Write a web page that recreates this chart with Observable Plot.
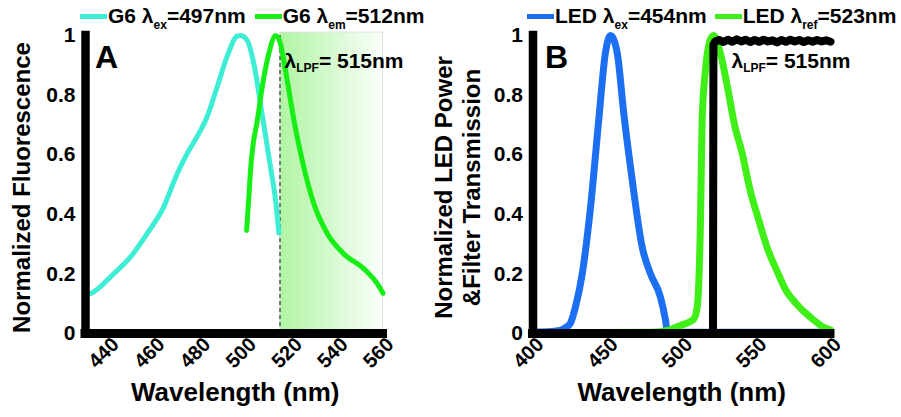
<!DOCTYPE html>
<html><head><meta charset="utf-8">
<script src="https://cdn.jsdelivr.net/npm/d3@7"></script>
<script src="https://cdn.jsdelivr.net/npm/@observablehq/plot@0.6"></script>
<style>
body{margin:0;background:#fff;font-family:"Liberation Sans",Arial,sans-serif;}
#wrap{position:relative;width:901px;height:417px;overflow:hidden;}
.legend{position:absolute;top:3px;display:flex;white-space:nowrap;font-weight:bold;font-size:21px;line-height:26px;z-index:2;}
.item{display:flex;align-items:center;}
.sw{display:inline-block;width:27px;height:5px;margin-right:1px;position:relative;top:-1px}
.sub{font-size:12px;position:relative;top:6px}
.panel{position:absolute;top:26px;}
svg{overflow:visible}
</style></head><body>
<div id="wrap">
 <div id="legA" class="legend" style="left:80px"></div>
 <div id="legB" class="legend" style="left:527px"></div>
 <div id="panelA" class="panel" style="left:0"></div>
 <div id="panelB" class="panel" style="left:450px"></div>
</div>
<script>
// ---------- Panel A data: G6 excitation / emission ----------
const g6ExWl  = [430,432.2,442.4,449.7,457.0,464.2,470.1,474.5,478.8,483.2,487.6,491.9,496.3,497.8,500.7,503.6,507.2,510.9,513.1,514.5];
const g6ExVal = [0.13,0.134,0.201,0.257,0.336,0.425,0.537,0.605,0.661,0.728,0.829,0.930,0.998,1.0,0.983,0.904,0.735,0.556,0.444,0.337];
const g6EmWl  = [500.4,501.4,502.1,503.0,505.1,507.2,510.1,513.1,515.2,517.4,521.1,524.7,529.8,535.7,542.9,551.7,557.5,560];
const g6EmVal = [0.346,0.46,0.547,0.62,0.715,0.826,0.939,1.0,0.972,0.883,0.715,0.581,0.435,0.335,0.267,0.217,0.167,0.135];
const lpfA = 515;
const xDomainA = [430,560];
const xTicksA = [440,460,480,500,520,540,560];

// ---------- Panel B data: LED spectra and filter ----------
const ledExWl  = [400,410,418,422,425.2,428.6,433.1,438.7,444.2,448.7,452.1,456.6,461.0,466.7,473.4,479.0,485.7,489.1,490.2,495,520,560,600];
const ledExVal = [0.005,0.006,0.01,0.02,0.035,0.09,0.2,0.425,0.717,0.942,1.0,0.942,0.74,0.515,0.29,0.2,0.122,0.044,0.01,0.004,0.004,0.004,0.004];
const ledRefWl  = [400,440,480,490.2,499.2,508.1,510.4,512.6,513.7,516.0,519.3,521.5,526,531,535.5,540.6,546,551.8,558,564,570,577,583,589,595,600];
const ledRefVal = [0.003,0.003,0.004,0.01,0.027,0.049,0.089,0.38,0.717,0.886,0.987,1.0,0.94,0.82,0.70,0.605,0.48,0.38,0.28,0.21,0.145,0.1,0.07,0.044,0.022,0.012];
const lpfWl  = [521,521.3,522.5,525,528,531,534,537,540,543,546,549,552,555,558,561,564,567,570,573,576,579,582,585,588,591,594,597,600];
const lpfVal = [0,0.97,0.98,0.985,0.978,0.986,0.979,0.987,0.98,0.986,0.978,0.985,0.979,0.986,0.98,0.984,0.977,0.985,0.979,0.986,0.98,0.985,0.978,0.984,0.979,0.985,0.98,0.984,0.979];
const lpfB = 521;
const xDomainB = [400,600];
const xTicksB = [400,450,500,550,600];

const yTicks = [0,0.2,0.4,0.6,0.8,1];
const lpfLabel = "= 515nm";

const legendA = [
  {pre:"G6 λ", sub:"ex", post:"=497nm", color:"#3deed4"},
  {pre:"G6 λ", sub:"em", post:"=512nm", color:"#16ee16"}
];
const legendB = [
  {pre:"LED λ", sub:"ex", post:"=454nm", color:"#1c6ff0"},
  {pre:"LED λ", sub:"ref", post:"=523nm", color:"#40ef18"}
];

function buildLegend(el, items, gap){
  items.forEach((it,i)=>{
    const d = document.createElement("div");
    d.className="item";
    if(i>0) d.style.marginLeft = gap+"px";
    d.innerHTML = `<span class="sw" style="background:${it.color}"></span><span>${it.pre}<span class="sub">${it.sub}</span>${it.post}</span>`;
    el.appendChild(d);
  });
}
buildLegend(document.getElementById("legA"), legendA, 9);
buildLegend(document.getElementById("legB"), legendB, 8);

const zipData = (w,v)=>w.map((x,i)=>({w:x, v:v[i]}));
const FONT = "Liberation Sans, Arial, sans-serif";
const NS = "http://www.w3.org/2000/svg";

function addLabel(svg, x, y, main, sub, post, size){
  const t = document.createElementNS(NS,"text");
  t.setAttribute("x", x); t.setAttribute("y", y);
  t.setAttribute("text-anchor","start");
  t.setAttribute("font-family", FONT); t.setAttribute("font-weight","bold");
  t.setAttribute("font-size", size); t.setAttribute("fill","#000");
  const a = document.createElementNS(NS,"tspan"); a.textContent = main; t.appendChild(a);
  if (sub){
    const s = document.createElementNS(NS,"tspan"); s.textContent = sub;
    s.setAttribute("font-size", 12); s.setAttribute("dy", 4); t.appendChild(s);
  }
  if (post){
    const p = document.createElementNS(NS,"tspan"); p.textContent = post;
    if (sub) p.setAttribute("dy", -4); t.appendChild(p);
  }
  svg.appendChild(t);
}

function commonMarks(xDomain, xTicks){
  return [
    Plot.ruleX([xDomain[0]], {y1:0, y2:1, stroke:"#000", strokeWidth:8.5, strokeLinecap:"square"}),
    Plot.ruleY([0], {x1:xDomain[0], x2:xDomain[1], stroke:"#000", strokeWidth:9, strokeLinecap:"square"}),
    Plot.axisY({ticks:yTicks, tickSize:0, tickPadding:10, fontSize:21, fontWeight:"bold", tickFormat:d3.format("~g"), label:null}),
    Plot.text(xTicks, {x:d=>d, frameAnchor:"bottom", dy:24, rotate:-45, textAnchor:"middle", fontSize:20, fontWeight:"bold", fill:"#000"}),
  ];
}

// ---------- Panel A ----------
const plotA = Plot.plot({
  width:450, height:391,
  marginTop:9, marginBottom:84, marginLeft:85, marginRight:67.5,
  style:{fontFamily:FONT, color:"#000", background:"transparent", overflow:"visible"},
  x:{domain:xDomainA, axis:null},
  y:{domain:[0,1]},
  marks:[
    Plot.rect([{x1:lpfA, x2:xDomainA[1], y1:0, y2:1.01}], {x1:"x1", x2:"x2", y1:"y1", y2:"y2", fill:"url(#shadeA)", stroke:"#e2e2e2", strokeWidth:1}),
    Plot.ruleX([lpfA], {y1:0, y2:1, stroke:"#555", strokeWidth:1.5, strokeDasharray:"4,3"}),
    Plot.line(zipData(g6ExWl,g6ExVal), {x:"w", y:"v", stroke:legendA[0].color, strokeWidth:5, curve:"monotone-x", strokeLinecap:"round"}),
    Plot.line(zipData(g6EmWl,g6EmVal), {x:"w", y:"v", stroke:legendA[1].color, strokeWidth:5, curve:"monotone-x", strokeLinecap:"round"}),
    ...commonMarks(xDomainA, xTicksA),
    Plot.text(["Normalized Fluorescence"], {frameAnchor:"left", rotate:-90, textAnchor:"middle", dx:-63, dy:3, fontSize:24, fontWeight:"bold", fill:"#000"}),
    Plot.text(["Wavelength (nm)"], {frameAnchor:"bottom", dy:67, dx:1, fontSize:26, fontWeight:"bold", fill:"#000"})
  ]
});
document.getElementById("panelA").appendChild(plotA);
{
  const defs = document.createElementNS(NS,"defs");
  defs.innerHTML = '<linearGradient id="shadeA" x1="0" x2="1" y1="0" y2="0"><stop offset="0" stop-color="#b0f4a3"/><stop offset="1" stop-color="#fbfffb"/></linearGradient>';
  plotA.insertBefore(defs, plotA.firstChild);
  const sx = plotA.scale("x"), sy = plotA.scale("y");
  addLabel(plotA, sx.apply(xDomainA[0]) + 10, sy.apply(1) + 33, "A", null, null, 32);
  addLabel(plotA, sx.apply(lpfA) + 5, sy.apply(1) + 33, "λ", "LPF", lpfLabel, 21);
}

// ---------- Panel B ----------
const plotB = Plot.plot({
  width:451, height:391,
  marginTop:9, marginBottom:84, marginLeft:82.5, marginRight:71,
  style:{fontFamily:FONT, color:"#000", background:"transparent", overflow:"visible"},
  x:{domain:xDomainB, axis:null},
  y:{domain:[0,1]},
  marks:[
    Plot.line(zipData(ledExWl,ledExVal), {x:"w", y:"v", stroke:legendB[0].color, strokeWidth:7, curve:"monotone-x", strokeLinecap:"round", strokeLinejoin:"round"}),
    Plot.line(zipData(ledRefWl,ledRefVal), {x:"w", y:"v", stroke:legendB[1].color, strokeWidth:7, curve:"monotone-x", strokeLinecap:"round", strokeLinejoin:"round"}),
    Plot.line(zipData(lpfWl,lpfVal), {x:"w", y:"v", stroke:"#000", strokeWidth:8, strokeLinecap:"round", strokeLinejoin:"round"}),
    ...commonMarks(xDomainB, xTicksB),
    Plot.text(["Normalized LED Power\n&Filter Transmission"], {frameAnchor:"left", rotate:-90, textAnchor:"middle", dx:-76, dy:3, lineHeight:1.15, fontSize:24, fontWeight:"bold", fill:"#000"}),
    Plot.text(["Wavelength (nm)"], {frameAnchor:"bottom", dy:67, dx:0, fontSize:26, fontWeight:"bold", fill:"#000"})
  ]
});
document.getElementById("panelB").appendChild(plotB);
{
  const sx = plotB.scale("x"), sy = plotB.scale("y");
  addLabel(plotB, sx.apply(xDomainB[0]) + 12.5, sy.apply(1) + 33, "B", null, null, 32);
  addLabel(plotB, sx.apply(lpfB) + 19, sy.apply(1) + 33, "λ", "LPF", lpfLabel, 21);
}
</script>
</body></html>
